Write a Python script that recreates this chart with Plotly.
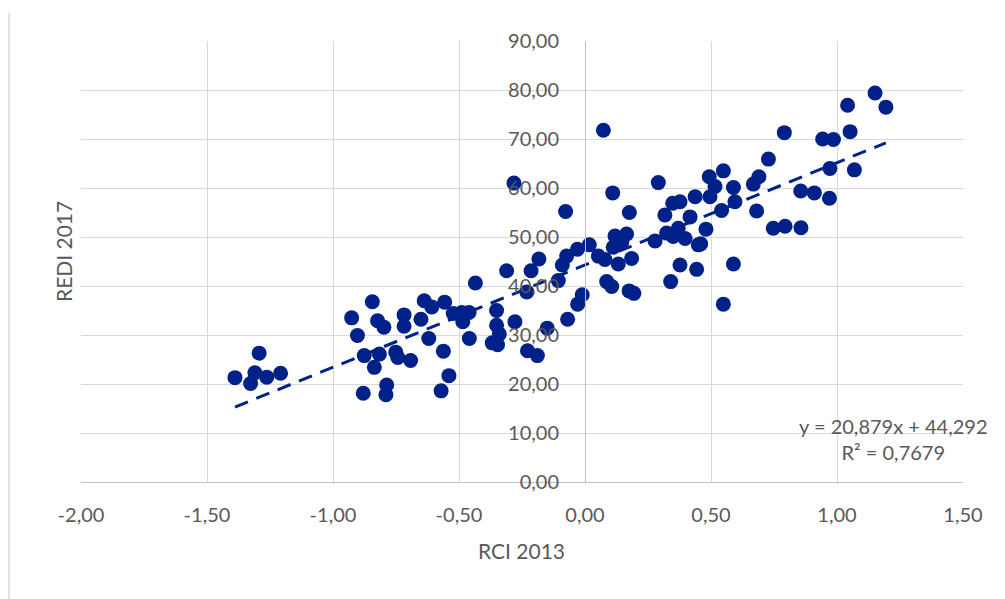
import plotly.graph_objects as go

# RCI 2013 (x) and REDI 2017 (y) values
rci_2013 = [
    -1.293, -1.389, -1.310, -1.327, -1.263, -1.208,
    -0.926, -0.844, -0.903, -0.823, -0.798, -0.876, -0.816, -0.836, -0.880,
    -0.787, -0.790, -0.751, -0.743, -0.692, -0.718, -0.718, -0.651, -0.638,
    -0.608, -0.620, -0.557, -0.523, -0.489, -0.485, -0.460, -0.562, -0.540,
    -0.571, -0.459, -0.435, -0.351, -0.351, -0.340, -0.368, -0.347, -0.278,
    -0.228, -0.189, -0.150, -0.231, -0.311, -0.214, -0.183, -0.106, -0.090,
    -0.011, -0.029, -0.069, 0.086, 0.106, 0.132, 0.185, 0.175, 0.194, 0.340,
    -0.282, -0.077, 0.110, 0.291, 0.176, -0.073, -0.030, 0.017, 0.053, 0.079,
    0.119, 0.165, 0.112, 0.146, 0.278, 0.317, 0.348, 0.377, 0.324, 0.350,
    0.370, 0.397, 0.417, 0.437, 0.377, 0.443, 0.450,
    1.151, 1.042, 1.194, 0.791, 1.052, 0.943, 0.986, 0.728, 0.972, 1.069,
    0.549, 0.493, 0.690, 0.668, 0.516, 0.589, 0.856, 0.910, 0.970, 0.496,
    0.595, 0.542, 0.681, 0.747, 0.794, 0.857, 0.480, 0.459, 0.589, 0.549,
    0.073,
]
redi_2017 = [
    26.3, 21.3, 22.3, 20.1, 21.4, 22.2,
    33.5, 36.8, 29.9, 32.9, 31.6, 25.8, 26.1, 23.4, 18.1,
    19.8, 17.8, 26.5, 25.4, 24.8, 34.1, 31.8, 33.2, 37.0,
    35.7, 29.3, 36.7, 34.4, 34.6, 32.7, 34.6, 26.7, 21.7,
    18.6, 29.3, 40.6, 35.0, 32.0, 30.2, 28.4, 28.0, 32.7,
    26.8, 25.8, 31.4, 38.8, 43.1, 43.1, 45.5, 41.1, 44.3,
    38.2, 36.3, 33.2, 40.9, 39.9, 44.5, 45.6, 39.0, 38.5, 40.9,
    61.0, 55.2, 59.0, 61.1, 55.0, 46.1, 47.5, 48.4, 46.1, 45.4,
    50.2, 50.6, 47.9, 49.0, 49.2, 54.5, 56.9, 57.2, 50.8, 50.1,
    51.8, 49.7, 54.1, 58.2, 44.3, 43.4, 48.4,
    79.4, 76.9, 76.5, 71.3, 71.5, 70.0, 69.9, 65.9, 64.0, 63.7,
    63.5, 62.3, 62.3, 60.8, 60.3, 60.1, 59.4, 59.0, 57.9, 58.2,
    57.2, 55.4, 55.3, 51.8, 52.2, 51.9, 51.6, 48.6, 44.5, 36.3,
    71.8,
]

# Axis ticks
x_tick_values = [-2.0, -1.5, -1.0, -0.5, 0.0, 0.5, 1.0, 1.5]
x_tick_labels = ["-2,00", "-1,50", "-1,00", "-0,50", "0,00", "0,50", "1,00", "1,50"]
y_tick_values = [0, 10, 20, 30, 40, 50, 60, 70, 80, 90]
y_tick_labels = ["0,00", "10,00", "20,00", "30,00", "40,00", "50,00",
                 "60,00", "70,00", "80,00", "90,00"]

# Linear trendline as printed on the chart
trend_slope = 20.879
trend_intercept = 44.292
trend_label = "y = 20,879x + 44,292<br>R² = 0,7679"

x_title = "RCI 2013"
y_title = "REDI 2017"

navy = "rgb(0,33,137)"
grid = "#d9d9d9"
axis_line = "#bfbfbf"
txt = "#595959"
font_family = "Lato, 'Open Sans', sans-serif"

x0, x1 = min(rci_2013), max(rci_2013)

fig = go.Figure()
fig.add_trace(go.Scatter(
    x=rci_2013, y=redi_2017, mode="markers",
    marker=dict(size=15, color=navy, line=dict(width=0)),
    showlegend=False, hoverinfo="skip",
))
fig.add_trace(go.Scatter(
    x=[x0, x1],
    y=[trend_slope * x0 + trend_intercept, trend_slope * x1 + trend_intercept],
    mode="lines", line=dict(color=navy, width=3, dash="14px,9px"),
    showlegend=False, hoverinfo="skip",
))

# page body has an 8px margin, so the figure is offset by 8px
fig.update_layout(
    width=997, height=591,
    margin=dict(l=73, r=42, t=33, b=117),
    paper_bgcolor="white", plot_bgcolor="white",
    font=dict(family=font_family, size=20, color=txt),
    xaxis=dict(
        range=[-2, 1.5], tickmode="array", tickvals=x_tick_values,
        ticktext=x_tick_labels,
        showgrid=True, gridcolor=grid, gridwidth=1,
        zeroline=False, showline=True, linecolor=axis_line, linewidth=1,
        ticks="", ticklabelstandoff=15,
        tickfont=dict(size=20, color=txt),
    ),
    yaxis=dict(
        range=[0, 90], tickmode="array", tickvals=y_tick_values,
        ticktext=y_tick_labels,
        showgrid=True, gridcolor=grid, gridwidth=1,
        zeroline=False, showline=True, linecolor=axis_line, linewidth=1,
        anchor="free", position=2 / 3.5,
        ticks="", ticklabelstandoff=22,
        tickfont=dict(size=20, color=txt),
    ),
    annotations=[
        dict(text=x_title, xref="paper", yref="paper", x=0.499, y=-0.155,
             showarrow=False, font=dict(size=21, color=txt),
             xanchor="center", yanchor="middle"),
        dict(text=y_title, xref="paper", yref="paper", x=-0.0204, y=0.5215,
             showarrow=False, textangle=-90, font=dict(size=21, color=txt),
             xanchor="center", yanchor="middle"),
        dict(text=trend_label, xref="x", yref="y", x=1.226, y=8.8,
             showarrow=False, font=dict(size=20, color=txt), align="center",
             xanchor="center", yanchor="middle"),
    ],
    shapes=[
        dict(type="line", xref="paper", yref="paper",
             x0=-0.0816, x1=-0.0816, y0=1.0635, y1=-0.27,
             line=dict(color=grid, width=1.5)),
    ],
)

fig.write_html("out.html")
